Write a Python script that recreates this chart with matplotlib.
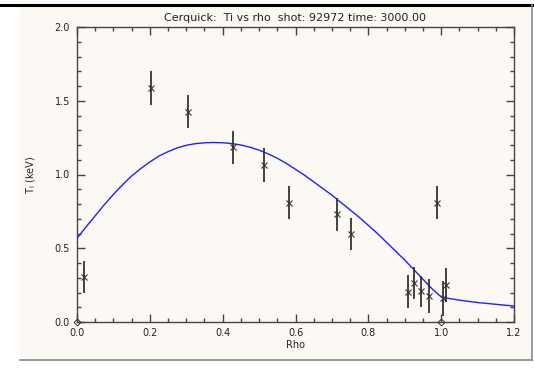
import numpy as np
import matplotlib
matplotlib.use('Agg')
import matplotlib.pyplot as plt
from matplotlib.lines import Line2D
from matplotlib.ticker import MultipleLocator

# measured Ti points (rho, Ti [keV], error)
rho = [0.019, 0.203, 0.306, 0.429, 0.514, 0.583, 0.713, 0.752,
       0.910, 0.926, 0.945, 0.966, 0.988, 1.006, 1.013]
ti = [0.307, 1.588, 1.426, 1.184, 1.064, 0.81, 0.73, 0.595,
      0.205, 0.266, 0.21, 0.176, 0.81, 0.16, 0.25]
ti_err = [0.107, 0.114, 0.11, 0.114, 0.115, 0.113, 0.11, 0.11,
          0.113, 0.11, 0.105, 0.114, 0.115, 0.118, 0.113]

# fitted profile
fit_rho = [0.0, 0.025, 0.05, 0.075, 0.1, 0.125, 0.15, 0.175, 0.2, 0.225, 0.25,
           0.275, 0.3, 0.325, 0.35, 0.375, 0.4, 0.425, 0.45, 0.475, 0.5,
           0.525, 0.55, 0.575, 0.6, 0.625, 0.65, 0.675, 0.7, 0.725, 0.75,
           0.775, 0.8, 0.825, 0.85, 0.875, 0.9, 0.925, 0.95, 0.975, 1.0,
           1.025, 1.05, 1.1, 1.15, 1.2]
fit_ti = [0.567, 0.645, 0.72, 0.795, 0.865, 0.93, 0.99, 1.04, 1.085, 1.125, 1.155,
          1.18, 1.198, 1.209, 1.215, 1.217, 1.215, 1.21, 1.2, 1.185, 1.165,
          1.14, 1.11, 1.075, 1.035, 0.995, 0.95, 0.905, 0.86, 0.81, 0.76,
          0.71, 0.655, 0.6, 0.54, 0.48, 0.42, 0.355, 0.29, 0.225, 0.17,
          0.158, 0.148, 0.132, 0.12, 0.108]

# edge markers on the axis
edge_rho = [0.0, 1.0]
edge_ti = [0.0, 0.0]

W, H = 534, 372
fig = plt.figure(figsize=(W/100, H/100), dpi=100)
fig.patch.set_facecolor('white')
cream = '#fcf9f4'

# panel behind the plot
fig.patches.append(plt.Rectangle((20/W, 1-359/H), 511/W, 352/H, transform=fig.transFigure,
                                 facecolor=cream, edgecolor='none', zorder=-10))
fig.lines.append(Line2D([0, 532/W], [1-5/H, 1-5/H], transform=fig.transFigure,
                        color='black', lw=2.2))
fig.lines.append(Line2D([531.5/W, 531.5/W], [1-5/H, 1-360/H], transform=fig.transFigure,
                        color='#888888', lw=1.2))
fig.lines.append(Line2D([20/W, 532/W], [1-359.5/H, 1-359.5/H], transform=fig.transFigure,
                        color='#888888', lw=1.2))

ax = fig.add_axes([77/W, 1-322/H, 437/W, 295/H])
ax.set_facecolor(cream)

ax.plot(fit_rho, fit_ti, color='#2020ff', lw=1.0)
ax.errorbar(rho, ti, yerr=ti_err, fmt='x', color='#333333', ms=5, mew=0.8,
            elinewidth=1.3, capsize=0)
ax.plot(edge_rho, edge_ti, 'D', ms=3.5, mfc='none', mec='#333333', mew=0.7,
        clip_on=False, zorder=5)

ax.set_xlim(0, 1.2)
ax.set_ylim(0, 2.0)
ax.xaxis.set_major_locator(MultipleLocator(0.2))
ax.xaxis.set_minor_locator(MultipleLocator(0.05))
ax.yaxis.set_major_locator(MultipleLocator(0.5))
ax.yaxis.set_minor_locator(MultipleLocator(0.1))
ax.tick_params(which='both', direction='in', top=True, right=True,
               color='#444444', labelsize=7, labelcolor='#222222')
ax.tick_params(which='major', length=6, width=1.0)
ax.tick_params(which='minor', length=3, width=1.0)
ax.tick_params(axis='x', pad=4)
ax.tick_params(axis='y', pad=5)
ax.xaxis.set_major_formatter(plt.FuncFormatter(lambda v, p: '%.1f' % v))
ax.yaxis.set_major_formatter(plt.FuncFormatter(lambda v, p: '%.1f' % v))
for s in ax.spines.values():
    s.set_color('#444444')
    s.set_linewidth(1.0)

ax.set_xlabel('Rho', fontsize=7, color='#222222', labelpad=2)
ax.set_ylabel('T$_\\mathregular{i}$ (keV)', fontsize=7, color='#222222', labelpad=12)
ax.set_title('Cerquick:  Ti vs rho  shot: 92972 time: 3000.00', fontsize=8,
             color='#222222', pad=4)

fig.savefig('out.png', dpi=100, facecolor=fig.get_facecolor())
